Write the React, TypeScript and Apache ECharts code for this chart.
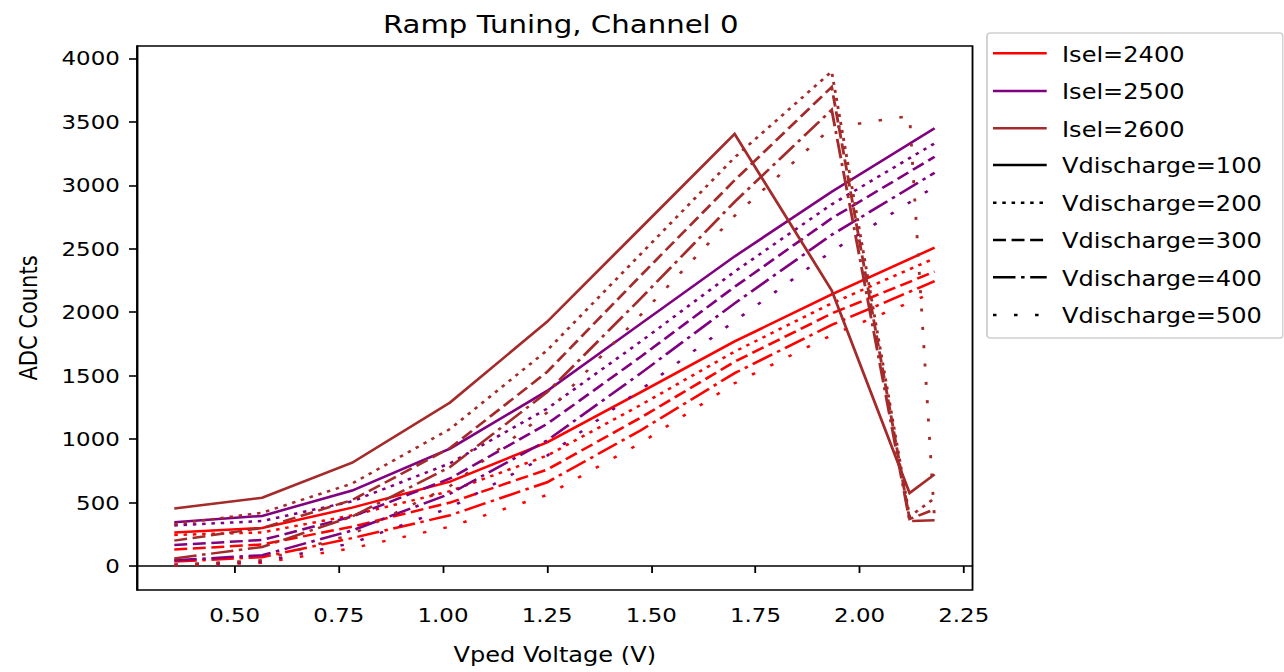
import React, { useEffect, useRef } from "react";
import * as echarts from "echarts";

// The reference image is horizontally stretched; we draw unstretched and scale X.
const S = 1.146;
const W = 1284 / S;
const H = 672;
const FONT = "DejaVu Sans";

// ---------- data ----------
const vped = [0.355, 0.566, 0.782, 1.017, 1.25, 1.475, 1.7, 1.933, 2.12, 2.18];
const xTicks = [0.5, 0.75, 1.0, 1.25, 1.5, 1.75, 2.0, 2.25];
const yTicks = [0, 500, 1000, 1500, 2000, 2500, 3000, 3500, 4000];

const iselLabels = ["Isel=2400", "Isel=2500", "Isel=2600"];
const vdLabels = ["Vdischarge=100", "Vdischarge=200", "Vdischarge=300", "Vdischarge=400", "Vdischarge=500"];

// Isel = 2400
const isel2400_vd100 = [265, 300, 460, 665, 975, 1370, 1770, 2140, null, 2509];
const isel2400_vd200 = [245, 265, 400, 590, 870, 1270, 1690, 2070, null, 2425];
const isel2400_vd300 = [130, 170, 310, 500, 760, 1170, 1610, 1990, null, 2320];
const isel2400_vd400 = [35, 70, 220, 400, 660, 1070, 1520, 1900, null, 2245];
const isel2400_vd500 = [5, 25, 140, 310, 560, 970, 1440, 1820, null, 2160];

// Isel = 2500
const isel2500_vd100 = [345, 395, 595, 925, 1380, 1910, 2440, 2950, null, 3450];
const isel2500_vd200 = [320, 355, 510, 810, 1240, 1770, 2320, 2850, null, 3331];
const isel2500_vd300 = [165, 205, 390, 690, 1120, 1650, 2200, 2740, null, 3225];
const isel2500_vd400 = [45, 85, 280, 570, 990, 1520, 2070, 2610, null, 3099];
const isel2500_vd500 = [10, 35, 180, 460, 870, 1390, 1930, 2480, null, 2990];

// Isel = 2600
const isel2600_vd100 = [454, 538, 814, 1289, 1925, 2665, 3405, 2172, 575, 722];
const isel2600_vd200 = [330, 420, 650, 1080, 1700, 2460, 3220, 3897, 390, 534];
const isel2600_vd300 = [200, 300, 520, 930, 1530, 2290, 3040, 3775, 370, 447];
const isel2600_vd400 = [60, 150, 390, 780, 1370, 2110, 2870, 3595, 355, 361];
const isel2600_vd500 = [10, 45, 250, 630, 1210, 1980, 2760, 3455, 3547, 360];

const seriesValues = [
  [isel2400_vd100, isel2400_vd200, isel2400_vd300, isel2400_vd400, isel2400_vd500],
  [isel2500_vd100, isel2500_vd200, isel2500_vd300, isel2500_vd400, isel2500_vd500],
  [isel2600_vd100, isel2600_vd200, isel2600_vd300, isel2600_vd400, isel2600_vd500],
];

// ---------- styles ----------
const iselColors = ["#ff0000", "#800080", "#a52a2a"];
const LW = 2.5;
const vdDash: any[] = [
  "solid",
  [3.06, 5.05],
  [11.3, 4.9],
  [19.6, 4.9, 3.06, 4.9],
  [3.06, 15.3],
];

export default function App() {
  const ref = useRef<HTMLDivElement>(null);

  useEffect(() => {
    if (!ref.current) return;
    const chart = echarts.init(ref.current, undefined, { renderer: "svg" });

    const series: any[] = [];
    seriesValues.forEach((group, gi) => {
      group.forEach((vals, vi) => {
        series.push({
          name: `${iselLabels[gi]}, ${vdLabels[vi]}`,
          type: "line",
          data: vped.map((x, k) => [x, vals[k]]),
          connectNulls: true,
          showSymbol: false,
          symbol: "none",
          silent: true,
          lineStyle: { color: iselColors[gi], width: LW, type: vdDash[vi], cap: "butt", join: "miter" },
          z: 2,
        });
      });
    });

    // legend drawn as graphic (proxy entries as in matplotlib)
    const lx = 987 / S;
    const ly = 33;
    const lw = 296 / S;
    const lh = 305;
    const hx1 = 993 / S;
    const hx2 = 1046.7 / S;
    const tx = 1062 / S;
    const rows = [53.3, 91, 128.3, 165, 202.7, 240, 277.3, 315];
    const legendItems: { label: string; color: string; dash: any }[] = [
      ...iselLabels.map((l, i) => ({ label: l, color: iselColors[i], dash: "solid" })),
      ...vdLabels.map((l, i) => ({ label: l, color: "#000", dash: vdDash[i] })),
    ];
    const graphic: any[] = [
      {
        type: "rect",
        shape: { x: lx, y: ly, width: lw, height: lh, r: 3 },
        style: { fill: "#fff", stroke: "#d0d0d0", lineWidth: 1.6 },
        z: 10,
      },
    ];
    legendItems.forEach((it, i) => {
      graphic.push({
        type: "line",
        shape: { x1: hx1, y1: rows[i], x2: hx2, y2: rows[i] },
        style: {
          stroke: it.color,
          lineWidth: LW,
          lineDash: it.dash === "solid" ? null : it.dash,
          lineCap: "butt",
        },
        z: 11,
      });
      graphic.push({
        type: "text",
        x: tx,
        y: rows[i] + 1,
        style: {
          text: it.label,
          fill: "#000",
          fontSize: 21,
          fontFamily: FONT,
          align: "left",
          verticalAlign: "middle",
        },
        z: 11,
      });
    });

    const axisLabelStyle = { fontSize: 20, fontFamily: FONT, color: "#000" };

    chart.setOption({
      animation: false,
      backgroundColor: "#ffffff",
      title: {
        text: "Ramp Tuning, Channel 0",
        left: 555 / S,
        top: 6,
        textAlign: "center",
        textStyle: { fontSize: 25.5, fontFamily: FONT, fontWeight: "normal", color: "#000" },
      },
      grid: {
        left: 137 / S,
        right: (1284 - 973) / S,
        top: 46,
        bottom: H - 590,
        show: true,
        borderColor: "#000",
        borderWidth: 1.6,
        backgroundColor: "transparent",
      },
      xAxis: {
        type: "value",
        min: 0.2655,
        max: 2.271,
        name: "Vped Voltage (V)",
        nameLocation: "middle",
        nameGap: 54,
        nameTextStyle: { fontSize: 21, fontFamily: FONT, color: "#000" },
        axisLine: { show: true, lineStyle: { color: "#000", width: 1.6 } },
        splitLine: { show: false },
        axisTick: { show: true, length: 7, lineStyle: { color: "#000", width: 1.6 }, customValues: xTicks },
        axisLabel: {
          ...axisLabelStyle,
          margin: 15,
          customValues: xTicks,
          formatter: (v: number) => v.toFixed(2),
        },
      },
      yAxis: {
        type: "value",
        min: -189,
        max: 4098,
        name: "ADC Counts",
        nameLocation: "middle",
        nameGap: 84,
        nameRotate: 90,
        nameTextStyle: { fontSize: 21, fontFamily: FONT, color: "#000" },
        axisLine: { show: true, lineStyle: { color: "#000", width: 1.6 } },
        splitLine: { show: false },
        axisTick: { show: true, length: 7, lineStyle: { color: "#000", width: 1.6 }, customValues: yTicks },
        axisLabel: {
          ...axisLabelStyle,
          margin: 15,
          customValues: yTicks,
          formatter: (v: number) => String(Math.round(v)),
        },
      },
      series,
      graphic,
    });

    return () => chart.dispose();
  }, []);

  return (
    <div
      ref={ref}
      style={{
        position: "fixed",
        left: 0,
        top: 0,
        width: `${W}px`,
        height: `${H}px`,
        transform: `scaleX(${S})`,
        transformOrigin: "0 0",
        background: "#fff",
      }}
    />
  );
}
